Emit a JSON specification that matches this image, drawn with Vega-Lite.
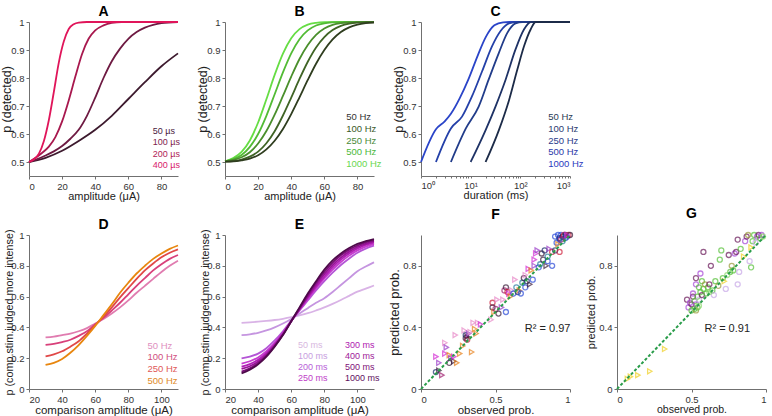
{
"$schema": "https://vega.github.io/schema/vega-lite/v6.json",
"background": "white",
"padding": {"left": 0, "top": 5, "right": 4, "bottom": 0},
"bounds": "flush",
"columns": 4,
"spacing": {"row": 59, "column": 47},
"config": {
  "font": "Liberation Sans",
  "view": {"stroke": null},
  "axis": {"grid": false, "domainColor": "#707070", "tickColor": "#707070", "labelColor": "#333333", "titleColor": "#222222", "labelFontSize": 9.5, "titleFontSize": 11, "titleFontWeight": "normal", "tickSize": 3, "labelPadding": 2, "labelOverlap": false},
  "title": {"fontSize": 14, "fontWeight": "bold", "color": "#000000", "frame": "group"},
  "legend": {"orient": "none", "title": null, "symbolSize": 0, "symbolOpacity": 0, "symbolStrokeWidth": 0, "labelOffset": 0, "padding": 0, "rowPadding": 1, "labelFontSize": 9.5, "labelFont": "Liberation Sans"}
},
"resolve": {"scale": {"color": "independent", "shape": "independent"}, "legend": {"color": "independent", "shape": "independent"}},
"datasets": {
"a": [
{"s":"50 µs","x":0,"p":0.5},{"s":"50 µs","x":10,"p":0.515},{"s":"50 µs","x":20,"p":0.54},{"s":"50 µs","x":30,"p":0.575},{"s":"50 µs","x":40,"p":0.615},{"s":"50 µs","x":50,"p":0.665},{"s":"50 µs","x":60,"p":0.725},{"s":"50 µs","x":70,"p":0.785},{"s":"50 µs","x":80,"p":0.842},{"s":"50 µs","x":90,"p":0.888},
{"s":"100 µs","x":0,"p":0.5},{"s":"100 µs","x":5,"p":0.51},{"s":"100 µs","x":10,"p":0.523},{"s":"100 µs","x":15,"p":0.538},{"s":"100 µs","x":20,"p":0.557},{"s":"100 µs","x":25,"p":0.583},{"s":"100 µs","x":30,"p":0.615},{"s":"100 µs","x":35,"p":0.665},{"s":"100 µs","x":40,"p":0.73},{"s":"100 µs","x":45,"p":0.8},{"s":"100 µs","x":50,"p":0.86},{"s":"100 µs","x":55,"p":0.905},{"s":"100 µs","x":60,"p":0.94},{"s":"100 µs","x":65,"p":0.964},{"s":"100 µs","x":70,"p":0.98},{"s":"100 µs","x":75,"p":0.99},{"s":"100 µs","x":80,"p":0.996},{"s":"100 µs","x":90,"p":1},
{"s":"200 µs","x":0,"p":0.5},{"s":"200 µs","x":4,"p":0.515},{"s":"200 µs","x":8,"p":0.533},{"s":"200 µs","x":12,"p":0.555},{"s":"200 µs","x":16,"p":0.59},{"s":"200 µs","x":20,"p":0.645},{"s":"200 µs","x":24,"p":0.72},{"s":"200 µs","x":28,"p":0.805},{"s":"200 µs","x":32,"p":0.885},{"s":"200 µs","x":36,"p":0.94},{"s":"200 µs","x":40,"p":0.97},{"s":"200 µs","x":45,"p":0.988},{"s":"200 µs","x":50,"p":0.997},{"s":"200 µs","x":56,"p":1},{"s":"200 µs","x":90,"p":1},
{"s":"400 µs","x":0,"p":0.5},{"s":"400 µs","x":3,"p":0.51},{"s":"400 µs","x":6,"p":0.53},{"s":"400 µs","x":9,"p":0.575},{"s":"400 µs","x":12,"p":0.65},{"s":"400 µs","x":15,"p":0.75},{"s":"400 µs","x":18,"p":0.855},{"s":"400 µs","x":21,"p":0.93},{"s":"400 µs","x":24,"p":0.975},{"s":"400 µs","x":27,"p":0.992},{"s":"400 µs","x":30,"p":0.998},{"s":"400 µs","x":35,"p":1},{"s":"400 µs","x":90,"p":1}
],
"b": [
{"s":"1000 Hz","x":0,"p":0.502},{"s":"1000 Hz","x":5,"p":0.514},{"s":"1000 Hz","x":10,"p":0.536},{"s":"1000 Hz","x":15,"p":0.577},{"s":"1000 Hz","x":20,"p":0.641},{"s":"1000 Hz","x":25,"p":0.724},{"s":"1000 Hz","x":30,"p":0.811},{"s":"1000 Hz","x":35,"p":0.887},{"s":"1000 Hz","x":40,"p":0.942},{"s":"1000 Hz","x":45,"p":0.9745},{"s":"1000 Hz","x":50,"p":0.9906},{"s":"1000 Hz","x":55,"p":0.997},{"s":"1000 Hz","x":60,"p":0.9992},{"s":"1000 Hz","x":70,"p":1},{"s":"1000 Hz","x":90,"p":1},
{"s":"500 Hz","x":0,"p":0.502},{"s":"500 Hz","x":5,"p":0.51},{"s":"500 Hz","x":10,"p":0.525},{"s":"500 Hz","x":15,"p":0.554},{"s":"500 Hz","x":20,"p":0.6},{"s":"500 Hz","x":25,"p":0.665},{"s":"500 Hz","x":30,"p":0.742},{"s":"500 Hz","x":35,"p":0.82},{"s":"500 Hz","x":40,"p":0.888},{"s":"500 Hz","x":45,"p":0.9385},{"s":"500 Hz","x":50,"p":0.97},{"s":"500 Hz","x":55,"p":0.9875},{"s":"500 Hz","x":60,"p":0.9955},{"s":"500 Hz","x":65,"p":0.9986},{"s":"500 Hz","x":70,"p":0.9996},{"s":"500 Hz","x":80,"p":1},{"s":"500 Hz","x":90,"p":1},
{"s":"250 Hz","x":0,"p":0.502},{"s":"250 Hz","x":5,"p":0.5075},{"s":"250 Hz","x":10,"p":0.517},{"s":"250 Hz","x":15,"p":0.535},{"s":"250 Hz","x":20,"p":0.566},{"s":"250 Hz","x":25,"p":0.6105},{"s":"250 Hz","x":30,"p":0.669},{"s":"250 Hz","x":35,"p":0.736},{"s":"250 Hz","x":40,"p":0.805},{"s":"250 Hz","x":45,"p":0.868},{"s":"250 Hz","x":50,"p":0.918},{"s":"250 Hz","x":55,"p":0.954},{"s":"250 Hz","x":60,"p":0.9767},{"s":"250 Hz","x":65,"p":0.9894},{"s":"250 Hz","x":70,"p":0.9957},{"s":"250 Hz","x":75,"p":0.9984},{"s":"250 Hz","x":80,"p":0.9995},{"s":"250 Hz","x":90,"p":1},
{"s":"100 Hz","x":0,"p":0.501},{"s":"100 Hz","x":5,"p":0.5036},{"s":"100 Hz","x":10,"p":0.5086},{"s":"100 Hz","x":15,"p":0.519},{"s":"100 Hz","x":20,"p":0.537},{"s":"100 Hz","x":25,"p":0.567},{"s":"100 Hz","x":30,"p":0.61},{"s":"100 Hz","x":35,"p":0.666},{"s":"100 Hz","x":40,"p":0.73},{"s":"100 Hz","x":45,"p":0.7965},{"s":"100 Hz","x":50,"p":0.858},{"s":"100 Hz","x":55,"p":0.909},{"s":"100 Hz","x":60,"p":0.946},{"s":"100 Hz","x":65,"p":0.971},{"s":"100 Hz","x":70,"p":0.986},{"s":"100 Hz","x":75,"p":0.9939},{"s":"100 Hz","x":80,"p":0.9976},{"s":"100 Hz","x":85,"p":0.9991},{"s":"100 Hz","x":90,"p":0.9997},
{"s":"50 Hz","x":0,"p":0.501},{"s":"50 Hz","x":5,"p":0.502},{"s":"50 Hz","x":10,"p":0.506},{"s":"50 Hz","x":15,"p":0.512},{"s":"50 Hz","x":20,"p":0.524},{"s":"50 Hz","x":25,"p":0.545},{"s":"50 Hz","x":30,"p":0.576},{"s":"50 Hz","x":35,"p":0.618},{"s":"50 Hz","x":40,"p":0.671},{"s":"50 Hz","x":45,"p":0.731},{"s":"50 Hz","x":50,"p":0.793},{"s":"50 Hz","x":55,"p":0.851},{"s":"50 Hz","x":60,"p":0.9},{"s":"50 Hz","x":65,"p":0.938},{"s":"50 Hz","x":70,"p":0.9646},{"s":"50 Hz","x":75,"p":0.981},{"s":"50 Hz","x":80,"p":0.991},{"s":"50 Hz","x":85,"p":0.996},{"s":"50 Hz","x":90,"p":0.998}
],
"c": [
{"s":"1000 Hz","d":1,"p":0.5},{"s":"1000 Hz","d":2,"p":0.617},{"s":"1000 Hz","d":3,"p":0.645},{"s":"1000 Hz","d":4,"p":0.672},{"s":"1000 Hz","d":6,"p":0.727},{"s":"1000 Hz","d":9,"p":0.795},{"s":"1000 Hz","d":14,"p":0.882},{"s":"1000 Hz","d":20,"p":0.945},{"s":"1000 Hz","d":30,"p":0.988},{"s":"1000 Hz","d":45,"p":0.999},{"s":"1000 Hz","d":60,"p":1},{"s":"1000 Hz","d":1000,"p":1},
{"s":"500 Hz","d":2,"p":0.5},{"s":"500 Hz","d":4,"p":0.62},{"s":"500 Hz","d":6.7,"p":0.662},{"s":"500 Hz","d":10.6,"p":0.734},{"s":"500 Hz","d":17,"p":0.824},{"s":"500 Hz","d":27,"p":0.914},{"s":"500 Hz","d":40,"p":0.968},{"s":"500 Hz","d":59,"p":0.995},{"s":"500 Hz","d":87,"p":1},{"s":"500 Hz","d":1000,"p":1},
{"s":"250 Hz","d":4,"p":0.5},{"s":"250 Hz","d":8,"p":0.62},{"s":"250 Hz","d":14.5,"p":0.698},{"s":"250 Hz","d":23,"p":0.794},{"s":"250 Hz","d":37,"p":0.89},{"s":"250 Hz","d":55,"p":0.962},{"s":"250 Hz","d":80,"p":0.995},{"s":"250 Hz","d":110,"p":1},{"s":"250 Hz","d":1000,"p":1},
{"s":"100 Hz","d":10,"p":0.5},{"s":"100 Hz","d":20,"p":0.614},{"s":"100 Hz","d":31.6,"p":0.698},{"s":"100 Hz","d":50.5,"p":0.794},{"s":"100 Hz","d":80,"p":0.902},{"s":"100 Hz","d":119,"p":0.974},{"s":"100 Hz","d":162,"p":1},{"s":"100 Hz","d":1000,"p":1},
{"s":"50 Hz","d":20,"p":0.5},{"s":"50 Hz","d":37,"p":0.614},{"s":"50 Hz","d":59,"p":0.72},{"s":"50 Hz","d":87,"p":0.83},{"s":"50 Hz","d":119,"p":0.914},{"s":"50 Hz","d":162,"p":0.974},{"s":"50 Hz","d":204,"p":1},{"s":"50 Hz","d":1000,"p":1}
],
"d": [
{"s":"50 Hz","x":30,"p":0.335},{"s":"50 Hz","x":35,"p":0.34},{"s":"50 Hz","x":40,"p":0.35},{"s":"50 Hz","x":45,"p":0.36},{"s":"50 Hz","x":50,"p":0.375},{"s":"50 Hz","x":55,"p":0.395},{"s":"50 Hz","x":60,"p":0.425},{"s":"50 Hz","x":65,"p":0.455},{"s":"50 Hz","x":70,"p":0.49},{"s":"50 Hz","x":75,"p":0.53},{"s":"50 Hz","x":80,"p":0.575},{"s":"50 Hz","x":85,"p":0.625},{"s":"50 Hz","x":90,"p":0.67},{"s":"50 Hz","x":95,"p":0.715},{"s":"50 Hz","x":100,"p":0.76},{"s":"50 Hz","x":105,"p":0.8},{"s":"50 Hz","x":110,"p":0.833},
{"s":"100 Hz","x":30,"p":0.286},{"s":"100 Hz","x":35,"p":0.293},{"s":"100 Hz","x":40,"p":0.305},{"s":"100 Hz","x":45,"p":0.32},{"s":"100 Hz","x":50,"p":0.345},{"s":"100 Hz","x":55,"p":0.375},{"s":"100 Hz","x":60,"p":0.42},{"s":"100 Hz","x":65,"p":0.462},{"s":"100 Hz","x":70,"p":0.51},{"s":"100 Hz","x":75,"p":0.56},{"s":"100 Hz","x":80,"p":0.615},{"s":"100 Hz","x":85,"p":0.67},{"s":"100 Hz","x":90,"p":0.72},{"s":"100 Hz","x":95,"p":0.77},{"s":"100 Hz","x":100,"p":0.81},{"s":"100 Hz","x":105,"p":0.845},{"s":"100 Hz","x":110,"p":0.87},
{"s":"250 Hz","x":30,"p":0.212},{"s":"250 Hz","x":35,"p":0.225},{"s":"250 Hz","x":40,"p":0.245},{"s":"250 Hz","x":45,"p":0.275},{"s":"250 Hz","x":50,"p":0.31},{"s":"250 Hz","x":55,"p":0.36},{"s":"250 Hz","x":60,"p":0.415},{"s":"250 Hz","x":65,"p":0.47},{"s":"250 Hz","x":70,"p":0.53},{"s":"250 Hz","x":75,"p":0.595},{"s":"250 Hz","x":80,"p":0.655},{"s":"250 Hz","x":85,"p":0.715},{"s":"250 Hz","x":90,"p":0.77},{"s":"250 Hz","x":95,"p":0.815},{"s":"250 Hz","x":100,"p":0.855},{"s":"250 Hz","x":105,"p":0.885},{"s":"250 Hz","x":110,"p":0.907},
{"s":"500 Hz","x":30,"p":0.156},{"s":"500 Hz","x":35,"p":0.17},{"s":"500 Hz","x":40,"p":0.195},{"s":"500 Hz","x":45,"p":0.235},{"s":"500 Hz","x":50,"p":0.285},{"s":"500 Hz","x":55,"p":0.345},{"s":"500 Hz","x":60,"p":0.41},{"s":"500 Hz","x":65,"p":0.48},{"s":"500 Hz","x":70,"p":0.55},{"s":"500 Hz","x":75,"p":0.625},{"s":"500 Hz","x":80,"p":0.69},{"s":"500 Hz","x":85,"p":0.75},{"s":"500 Hz","x":90,"p":0.8},{"s":"500 Hz","x":95,"p":0.845},{"s":"500 Hz","x":100,"p":0.88},{"s":"500 Hz","x":105,"p":0.91},{"s":"500 Hz","x":110,"p":0.932}
],
"e": [
{"s":"50 ms","x":30,"p":0.43},{"s":"50 ms","x":35,"p":0.433},{"s":"50 ms","x":40,"p":0.437},{"s":"50 ms","x":45,"p":0.442},{"s":"50 ms","x":50,"p":0.448},{"s":"50 ms","x":55,"p":0.456},{"s":"50 ms","x":60,"p":0.466},{"s":"50 ms","x":65,"p":0.478},{"s":"50 ms","x":70,"p":0.492},{"s":"50 ms","x":75,"p":0.51},{"s":"50 ms","x":80,"p":0.53},{"s":"50 ms","x":85,"p":0.553},{"s":"50 ms","x":90,"p":0.578},{"s":"50 ms","x":95,"p":0.605},{"s":"50 ms","x":100,"p":0.632},{"s":"50 ms","x":105,"p":0.652},{"s":"50 ms","x":110,"p":0.672},
{"s":"100 ms","x":30,"p":0.35},{"s":"100 ms","x":35,"p":0.355},{"s":"100 ms","x":40,"p":0.365},{"s":"100 ms","x":45,"p":0.38},{"s":"100 ms","x":50,"p":0.4},{"s":"100 ms","x":55,"p":0.425},{"s":"100 ms","x":60,"p":0.455},{"s":"100 ms","x":65,"p":0.49},{"s":"100 ms","x":70,"p":0.525},{"s":"100 ms","x":75,"p":0.56},{"s":"100 ms","x":80,"p":0.59},{"s":"100 ms","x":85,"p":0.63},{"s":"100 ms","x":90,"p":0.675},{"s":"100 ms","x":95,"p":0.72},{"s":"100 ms","x":100,"p":0.765},{"s":"100 ms","x":105,"p":0.795},{"s":"100 ms","x":110,"p":0.823},
{"s":"200 ms","x":30,"p":0.199},{"s":"200 ms","x":35,"p":0.21},{"s":"200 ms","x":40,"p":0.23},{"s":"200 ms","x":45,"p":0.265},{"s":"200 ms","x":50,"p":0.315},{"s":"200 ms","x":55,"p":0.375},{"s":"200 ms","x":60,"p":0.445},{"s":"200 ms","x":65,"p":0.51},{"s":"200 ms","x":70,"p":0.575},{"s":"200 ms","x":75,"p":0.64},{"s":"200 ms","x":80,"p":0.7},{"s":"200 ms","x":85,"p":0.755},{"s":"200 ms","x":90,"p":0.805},{"s":"200 ms","x":95,"p":0.848},{"s":"200 ms","x":100,"p":0.885},{"s":"200 ms","x":105,"p":0.912},{"s":"200 ms","x":110,"p":0.931},
{"s":"250 ms","x":30,"p":0.165},{"s":"250 ms","x":35,"p":0.18},{"s":"250 ms","x":40,"p":0.205},{"s":"250 ms","x":45,"p":0.245},{"s":"250 ms","x":50,"p":0.3},{"s":"250 ms","x":55,"p":0.365},{"s":"250 ms","x":60,"p":0.44},{"s":"250 ms","x":65,"p":0.513},{"s":"250 ms","x":70,"p":0.585},{"s":"250 ms","x":75,"p":0.655},{"s":"250 ms","x":80,"p":0.718},{"s":"250 ms","x":85,"p":0.775},{"s":"250 ms","x":90,"p":0.825},{"s":"250 ms","x":95,"p":0.866},{"s":"250 ms","x":100,"p":0.9},{"s":"250 ms","x":105,"p":0.925},{"s":"250 ms","x":110,"p":0.94},
{"s":"300 ms","x":30,"p":0.145},{"s":"300 ms","x":35,"p":0.162},{"s":"300 ms","x":40,"p":0.19},{"s":"300 ms","x":45,"p":0.232},{"s":"300 ms","x":50,"p":0.29},{"s":"300 ms","x":55,"p":0.36},{"s":"300 ms","x":60,"p":0.44},{"s":"300 ms","x":65,"p":0.517},{"s":"300 ms","x":70,"p":0.593},{"s":"300 ms","x":75,"p":0.665},{"s":"300 ms","x":80,"p":0.73},{"s":"300 ms","x":85,"p":0.79},{"s":"300 ms","x":90,"p":0.84},{"s":"300 ms","x":95,"p":0.88},{"s":"300 ms","x":100,"p":0.912},{"s":"300 ms","x":105,"p":0.935},{"s":"300 ms","x":110,"p":0.95},
{"s":"400 ms","x":30,"p":0.13},{"s":"400 ms","x":35,"p":0.148},{"s":"400 ms","x":40,"p":0.178},{"s":"400 ms","x":45,"p":0.222},{"s":"400 ms","x":50,"p":0.283},{"s":"400 ms","x":55,"p":0.355},{"s":"400 ms","x":60,"p":0.44},{"s":"400 ms","x":65,"p":0.52},{"s":"400 ms","x":70,"p":0.6},{"s":"400 ms","x":75,"p":0.677},{"s":"400 ms","x":80,"p":0.745},{"s":"400 ms","x":85,"p":0.805},{"s":"400 ms","x":90,"p":0.853},{"s":"400 ms","x":95,"p":0.892},{"s":"400 ms","x":100,"p":0.922},{"s":"400 ms","x":105,"p":0.943},{"s":"400 ms","x":110,"p":0.958},
{"s":"500 ms","x":30,"p":0.113},{"s":"500 ms","x":35,"p":0.134},{"s":"500 ms","x":40,"p":0.168},{"s":"500 ms","x":45,"p":0.215},{"s":"500 ms","x":50,"p":0.278},{"s":"500 ms","x":55,"p":0.352},{"s":"500 ms","x":60,"p":0.44},{"s":"500 ms","x":65,"p":0.525},{"s":"500 ms","x":70,"p":0.61},{"s":"500 ms","x":75,"p":0.69},{"s":"500 ms","x":80,"p":0.76},{"s":"500 ms","x":85,"p":0.82},{"s":"500 ms","x":90,"p":0.868},{"s":"500 ms","x":95,"p":0.905},{"s":"500 ms","x":100,"p":0.932},{"s":"500 ms","x":105,"p":0.952},{"s":"500 ms","x":110,"p":0.965},
{"s":"1000 ms","x":30,"p":0.102},{"s":"1000 ms","x":35,"p":0.125},{"s":"1000 ms","x":40,"p":0.16},{"s":"1000 ms","x":45,"p":0.21},{"s":"1000 ms","x":50,"p":0.275},{"s":"1000 ms","x":55,"p":0.35},{"s":"1000 ms","x":60,"p":0.44},{"s":"1000 ms","x":65,"p":0.53},{"s":"1000 ms","x":70,"p":0.62},{"s":"1000 ms","x":75,"p":0.7},{"s":"1000 ms","x":80,"p":0.775},{"s":"1000 ms","x":85,"p":0.835},{"s":"1000 ms","x":90,"p":0.88},{"s":"1000 ms","x":95,"p":0.915},{"s":"1000 ms","x":100,"p":0.942},{"s":"1000 ms","x":105,"p":0.96},{"s":"1000 ms","x":110,"p":0.974}
],
"f": [
{"o":0.10,"pr":0.11,"g":"navy","k":"c"},{"o":0.12,"pr":0.17,"g":"purple","k":"t"},{"o":0.10,"pr":0.21,"g":"magenta","k":"t"},{"o":0.14,"pr":0.09,"g":"plum","k":"t"},{"o":0.12,"pr":0.12,"g":"dark","k":"t"},{"o":0.16,"pr":0.30,"g":"pink","k":"t"},{"o":0.17,"pr":0.27,"g":"purple","k":"t"},{"o":0.16,"pr":0.23,"g":"magenta","k":"t"},{"o":0.19,"pr":0.22,"g":"orange","k":"t"},{"o":0.20,"pr":0.20,"g":"purple","k":"t"},{"o":0.19,"pr":0.17,"g":"dark","k":"c"},{"o":0.22,"pr":0.18,"g":"dark","k":"t"},{"o":0.22,"pr":0.21,"g":"magenta","k":"t"},{"o":0.23,"pr":0.35,"g":"pink","k":"t"},{"o":0.24,"pr":0.17,"g":"orange","k":"t"},{"o":0.26,"pr":0.23,"g":"orange","k":"t"},{"o":0.28,"pr":0.28,"g":"orange","k":"t"},{"o":0.29,"pr":0.38,"g":"pink","k":"t"},{"o":0.30,"pr":0.33,"g":"dark","k":"c"},{"o":0.30,"pr":0.35,"g":"navy","k":"c"},{"o":0.31,"pr":0.32,"g":"red","k":"c"},{"o":0.31,"pr":0.34,"g":"dark","k":"t"},{"o":0.32,"pr":0.36,"g":"purple","k":"t"},{"o":0.33,"pr":0.37,"g":"pink","k":"t"},{"o":0.34,"pr":0.24,"g":"orange","k":"t"},{"o":0.35,"pr":0.43,"g":"pink","k":"t"},{"o":0.37,"pr":0.36,"g":"orange","k":"t"},{"o":0.38,"pr":0.43,"g":"pink","k":"t"},{"o":0.36,"pr":0.39,"g":"orange","k":"t"},{"o":0.40,"pr":0.42,"g":"magenta","k":"t"},
{"o":0.47,"pr":0.45,"g":"pink","k":"t"},{"o":0.48,"pr":0.56,"g":"red","k":"c"},{"o":0.48,"pr":0.53,"g":"dark","k":"c"},{"o":0.49,"pr":0.50,"g":"orange","k":"t"},{"o":0.50,"pr":0.52,"g":"plum","k":"c"},{"o":0.51,"pr":0.58,"g":"pink","k":"t"},{"o":0.52,"pr":0.49,"g":"dark","k":"c"},{"o":0.54,"pr":0.53,"g":"purple","k":"t"},{"o":0.55,"pr":0.58,"g":"pink","k":"t"},{"o":0.56,"pr":0.64,"g":"plum","k":"c"},{"o":0.57,"pr":0.50,"g":"blue","k":"c"},{"o":0.57,"pr":0.66,"g":"dark","k":"c"},{"o":0.58,"pr":0.63,"g":"red","k":"c"},{"o":0.59,"pr":0.62,"g":"magenta","k":"t"},{"o":0.60,"pr":0.60,"g":"orange","k":"t"},{"o":0.61,"pr":0.64,"g":"pink","k":"t"},{"o":0.62,"pr":0.62,"g":"blue","k":"c"},{"o":0.63,"pr":0.71,"g":"pink","k":"t"},{"o":0.64,"pr":0.66,"g":"teal","k":"c"},{"o":0.65,"pr":0.63,"g":"navy","k":"c"},{"o":0.66,"pr":0.64,"g":"orange","k":"t"},{"o":0.67,"pr":0.62,"g":"blue","k":"c"},{"o":0.68,"pr":0.69,"g":"teal","k":"c"},{"o":0.69,"pr":0.72,"g":"dark","k":"c"},{"o":0.70,"pr":0.74,"g":"pink","k":"t"},{"o":0.70,"pr":0.66,"g":"blue","k":"c"},{"o":0.71,"pr":0.70,"g":"navy","k":"c"},{"o":0.72,"pr":0.78,"g":"magenta","k":"t"},{"o":0.73,"pr":0.68,"g":"dark","k":"t"},{"o":0.74,"pr":0.77,"g":"orange","k":"t"},{"o":0.75,"pr":0.71,"g":"blue","k":"c"},{"o":0.76,"pr":0.80,"g":"purple","k":"t"},{"o":0.76,"pr":0.84,"g":"magenta","k":"t"},{"o":0.77,"pr":0.88,"g":"magenta","k":"t"},{"o":0.78,"pr":0.90,"g":"purple","k":"t"},{"o":0.79,"pr":0.79,"g":"blue","k":"c"},{"o":0.80,"pr":0.81,"g":"teal","k":"c"},{"o":0.81,"pr":0.88,"g":"dark","k":"c"},{"o":0.82,"pr":0.84,"g":"dark","k":"c"},{"o":0.83,"pr":0.90,"g":"navy","k":"c"},{"o":0.84,"pr":0.80,"g":"dark","k":"t"},{"o":0.85,"pr":0.83,"g":"blue","k":"c"},{"o":0.85,"pr":0.86,"g":"teal","k":"c"},{"o":0.86,"pr":0.91,"g":"purple","k":"t"},{"o":0.88,"pr":0.89,"g":"red","k":"c"},{"o":0.88,"pr":0.80,"g":"blue","k":"c"},{"o":0.90,"pr":0.90,"g":"navy","k":"c"},{"o":0.91,"pr":0.95,"g":"blue","k":"c"},{"o":0.93,"pr":0.89,"g":"red","k":"c"},{"o":0.93,"pr":0.97,"g":"blue","k":"c"},
{"o":0.90,"pr":0.99,"g":"blue","k":"c"},{"o":0.92,"pr":1.0,"g":"blue","k":"c"},{"o":0.93,"pr":0.98,"g":"navy","k":"c"},{"o":0.94,"pr":1.0,"g":"blue","k":"c"},{"o":0.95,"pr":0.99,"g":"dark","k":"c"},{"o":0.96,"pr":1.0,"g":"red","k":"c"},{"o":0.97,"pr":0.98,"g":"blue","k":"c"},{"o":0.97,"pr":1.0,"g":"navy","k":"c"},{"o":0.98,"pr":0.99,"g":"blue","k":"c"},{"o":0.99,"pr":1.0,"g":"red","k":"c"},{"o":1.0,"pr":1.0,"g":"dark","k":"c"},{"o":0.95,"pr":0.96,"g":"teal","k":"c"},{"o":0.98,"pr":1.0,"g":"magenta","k":"t"},{"o":0.94,"pr":0.97,"g":"plum","k":"c"},{"o":0.92,"pr":0.94,"g":"orange","k":"t"}
],
"g": [
{"o":0.07,"pr":0.065,"g":"yellow","k":"t"},{"o":0.09,"pr":0.08,"g":"yellow","k":"t"},{"o":0.14,"pr":0.09,"g":"yellow","k":"t"},{"o":0.22,"pr":0.115,"g":"yellow","k":"t"},{"o":0.32,"pr":0.26,"g":"yellow","k":"t"},
{"o":0.47,"pr":0.58,"g":"dpurple","k":"c"},{"o":0.48,"pr":0.53,"g":"purple","k":"c"},{"o":0.49,"pr":0.56,"g":"purple","k":"c"},{"o":0.50,"pr":0.55,"g":"dpurple","k":"c"},{"o":0.50,"pr":0.51,"g":"green","k":"c"},{"o":0.51,"pr":0.60,"g":"dpurple","k":"c"},{"o":0.51,"pr":0.62,"g":"purple","k":"c"},{"o":0.52,"pr":0.52,"g":"green","k":"c"},{"o":0.52,"pr":0.57,"g":"green","k":"c"},{"o":0.53,"pr":0.55,"g":"purple","k":"c"},{"o":0.53,"pr":0.72,"g":"dpurple","k":"c"},{"o":0.53,"pr":0.68,"g":"purple","k":"c"},{"o":0.53,"pr":0.51,"g":"olive","k":"c"},{"o":0.54,"pr":0.53,"g":"green","k":"c"},{"o":0.54,"pr":0.60,"g":"green","k":"c"},{"o":0.55,"pr":0.66,"g":"green","k":"c"},{"o":0.55,"pr":0.58,"g":"lpurple","k":"c"},{"o":0.56,"pr":0.63,"g":"green","k":"c"},{"o":0.56,"pr":0.75,"g":"purple","k":"c"},{"o":0.57,"pr":0.61,"g":"dpurple","k":"c"},{"o":0.57,"pr":0.70,"g":"green","k":"c"},{"o":0.58,"pr":0.89,"g":"dpurple","k":"c"},{"o":0.58,"pr":0.65,"g":"green","k":"c"},{"o":0.59,"pr":0.68,"g":"olive","k":"c"},{"o":0.60,"pr":0.62,"g":"green","k":"c"},{"o":0.61,"pr":0.66,"g":"green","k":"c"},{"o":0.62,"pr":0.68,"g":"dpurple","k":"c"},{"o":0.63,"pr":0.80,"g":"dpurple","k":"c"},{"o":0.64,"pr":0.64,"g":"green","k":"c"},{"o":0.65,"pr":0.61,"g":"lpurple","k":"c"},{"o":0.66,"pr":0.70,"g":"green","k":"c"},{"o":0.68,"pr":0.67,"g":"olive","k":"c"},{"o":0.69,"pr":0.84,"g":"green","k":"c"},{"o":0.70,"pr":0.90,"g":"green","k":"c"},{"o":0.71,"pr":0.72,"g":"green","k":"c"},{"o":0.72,"pr":0.70,"g":"yellow","k":"t"},{"o":0.73,"pr":0.65,"g":"lpurple","k":"c"},{"o":0.75,"pr":0.87,"g":"dpurple","k":"c"},{"o":0.76,"pr":0.76,"g":"green","k":"c"},{"o":0.77,"pr":0.80,"g":"olive","k":"c"},{"o":0.78,"pr":0.77,"g":"green","k":"c"},{"o":0.79,"pr":0.88,"g":"purple","k":"c"},{"o":0.80,"pr":0.89,"g":"dpurple","k":"c"},{"o":0.81,"pr":0.68,"g":"lpurple","k":"c"},{"o":0.81,"pr":0.97,"g":"dpurple","k":"c"},{"o":0.82,"pr":0.76,"g":"lpurple","k":"c"},{"o":0.83,"pr":0.91,"g":"green","k":"c"},{"o":0.85,"pr":0.86,"g":"yellow","k":"t"},{"o":0.86,"pr":0.96,"g":"purple","k":"c"},{"o":0.87,"pr":0.99,"g":"dpurple","k":"c"},{"o":0.88,"pr":1.0,"g":"olive","k":"c"},{"o":0.89,"pr":0.83,"g":"lpurple","k":"c"},{"o":0.90,"pr":0.79,"g":"green","k":"c"},{"o":0.90,"pr":0.92,"g":"yellow","k":"t"},{"o":0.91,"pr":0.96,"g":"green","k":"c"},{"o":0.92,"pr":1.0,"g":"green","k":"c"},{"o":0.93,"pr":0.95,"g":"lpurple","k":"c"},{"o":0.94,"pr":0.99,"g":"purple","k":"c"},{"o":0.95,"pr":1.0,"g":"dpurple","k":"c"},{"o":0.96,"pr":0.98,"g":"green","k":"c"},{"o":0.97,"pr":1.0,"g":"purple","k":"c"},{"o":0.98,"pr":0.99,"g":"lgreen","k":"c"},{"o":0.62,"pr":0.63,"g":"lgreen","k":"c"},{"o":0.74,"pr":0.74,"g":"lgreen","k":"c"},{"o":0.55,"pr":0.54,"g":"lgreen","k":"c"}
],
"blank": [{"z": 0}],
"rf": [{"lbl": "R² = 0.97", "xo": 0.85, "yo": 0.39}],
"rg": [{"lbl": "R² = 0.91", "xo": 0.74, "yo": 0.39}],
"diag": [{"x0": 0, "y0": 0, "x1": 1, "y1": 1}]
},
"concat": [
{
 "width": 149, "height": 154,
 "title": {"text": "A", "offset": -2},
 "data": {"name": "a"},
 "mark": {"type": "line", "strokeWidth": 1.8, "interpolate": "monotone"},
 "encoding": {
  "x": {"field": "x", "type": "quantitative", "scale": {"domain": [0, 90], "nice": false}, "axis": {"title": "amplitude (μA)", "values": [0,20,40,60,80], "titlePadding": 0}},
  "y": {"field": "p", "type": "quantitative", "scale": {"domain": [0.45, 1], "nice": false, "zero": false}, "axis": {"title": "p (detected)", "values": [0.5,0.6,0.7,0.8,0.9,1], "format": "~g", "titleFontSize": 12.5, "titlePadding": -3}},
  "color": {"field": "s", "type": "nominal", "scale": {"domain": ["50 µs","100 µs","200 µs","400 µs"], "range": ["#3d1a2e","#6e1a42","#a8184e","#e0155a"]},
   "legend": {"legendX": 114.7, "legendY": 104, "labelFontSize": 9, "rowPadding": 1.6, "labelColor": {"expr": "['#4a2040','#801c4c','#b01c55','#d8206a'][indexof(['50 µs','100 µs','200 µs','400 µs'], datum.value)]"}}}
 }
},
{
 "width": 149, "height": 154,
 "title": {"text": "B", "offset": -2},
 "data": {"name": "b"},
 "mark": {"type": "line", "strokeWidth": 1.8, "interpolate": "monotone"},
 "encoding": {
  "x": {"field": "x", "type": "quantitative", "scale": {"domain": [0, 90], "nice": false}, "axis": {"title": "amplitude (μA)", "values": [0,20,40,60,80], "titlePadding": 0}},
  "y": {"field": "p", "type": "quantitative", "scale": {"domain": [0.45, 1], "nice": false, "zero": false}, "axis": {"title": "p (detected)", "values": [0.5,0.6,0.7,0.8,0.9,1], "format": "~g", "titleFontSize": 12.5, "titlePadding": -3}},
  "color": {"field": "s", "type": "nominal", "scale": {"domain": ["50 Hz","100 Hz","250 Hz","500 Hz","1000 Hz"], "range": ["#2f3d1f","#3f6425","#4a8f2c","#52bb35","#66dd44"]},
   "legend": {"legendX": 111.7, "legendY": 90, "rowPadding": 0.9, "labelColor": {"expr": "['#333333','#3a5a28','#4a8a38','#4ab83a','#6ad850'][indexof(['50 Hz','100 Hz','250 Hz','500 Hz','1000 Hz'], datum.value)]"}}}
 }
},
{
 "width": 149, "height": 154,
 "title": {"text": "C", "offset": -2},
 "data": {"name": "c"},
 "mark": {"type": "line", "strokeWidth": 1.8, "interpolate": "monotone"},
 "encoding": {
  "x": {"field": "d", "type": "quantitative", "scale": {"type": "log", "domain": [1, 1000], "nice": false}, "axis": {"title": "duration (ms)", "values": [1,2,3,4,5,6,7,8,9,10,20,30,40,50,60,70,80,90,100,200,300,400,500,600,700,800,900,1000], "labelExpr": "datum.value == 1 ? '10⁰' : datum.value == 10 ? '10¹' : datum.value == 100 ? '10²' : datum.value == 1000 ? '10³' : ''", "tickSize": 2, "titlePadding": 0}},
  "y": {"field": "p", "type": "quantitative", "scale": {"domain": [0.45, 1], "nice": false, "zero": false}, "axis": {"title": "p (detected)", "values": [0.5,0.6,0.7,0.8,0.9,1], "format": "~g", "titleFontSize": 12.5, "titlePadding": -3}},
  "color": {"field": "s", "type": "nominal", "scale": {"domain": ["50 Hz","100 Hz","250 Hz","500 Hz","1000 Hz"], "range": ["#1c2b48","#1e3266","#213c8a","#2440a8","#2a44c8"]},
   "legend": {"legendX": 117.7, "legendY": 90, "rowPadding": 0.9, "labelColor": {"expr": "['#2a3a55','#2a3a70','#2a3a8a','#2a38a8','#2a3ac0'][indexof(['50 Hz','100 Hz','250 Hz','500 Hz','1000 Hz'], datum.value)]"}}}
 }
},
{
 "width": 149, "height": 154,
 "data": {"name": "blank"},
 "mark": {"type": "point", "opacity": 0},
 "encoding": {}
},
{
 "width": 149, "height": 154,
 "title": {"text": "D", "offset": -3.2},
 "data": {"name": "d"},
 "mark": {"type": "line", "strokeWidth": 1.8, "interpolate": "monotone"},
 "encoding": {
  "x": {"field": "x", "type": "quantitative", "scale": {"domain": [20, 110], "nice": false, "zero": false}, "axis": {"title": "comparison amplitude (μA)", "values": [20,40,60,80,100], "titleFontSize": 11.5, "titlePadding": 1}},
  "y": {"field": "p", "type": "quantitative", "scale": {"domain": [0, 1], "nice": false}, "axis": {"title": "p (comp.stim.judged more intense)", "values": [0,0.2,0.4,0.6,0.8,1], "format": "~g", "titleFontSize": 10.8, "titlePadding": -3.5}},
  "color": {"field": "s", "type": "nominal", "scale": {"domain": ["50 Hz","100 Hz","250 Hz","500 Hz"], "range": ["#e07cb0","#d8407a","#e04848","#e8860e"]},
   "legend": {"legendX": 109, "legendY": 106, "rowPadding": 0.6, "labelColor": {"expr": "['#e090c0','#d05080','#e05858','#e08a28'][indexof(['50 Hz','100 Hz','250 Hz','500 Hz'], datum.value)]"}}}
 }
},
{
 "width": 149, "height": 154,
 "title": {"text": "E", "offset": -3.2},
 "data": {"name": "e"},
 "mark": {"type": "line", "strokeWidth": 1.8, "interpolate": "monotone"},
 "encoding": {
  "x": {"field": "x", "type": "quantitative", "scale": {"domain": [20, 110], "nice": false, "zero": false}, "axis": {"title": "comparison amplitude (μA)", "values": [20,40,60,80,100], "titleFontSize": 11.5, "titlePadding": 1}},
  "y": {"field": "p", "type": "quantitative", "scale": {"domain": [0, 1], "nice": false}, "axis": {"title": "p (comp.stim.judged more intense)", "values": [0,0.2,0.4,0.6,0.8,1], "format": "~g", "titleFontSize": 10.8, "titlePadding": -3.5}},
  "color": {"field": "s", "type": "nominal", "scale": {"domain": ["50 ms","100 ms","200 ms","250 ms","300 ms","400 ms","500 ms","1000 ms"], "range": ["#d9b3e6","#c595e0","#b455d6","#c63ccf","#b11fb6","#991199","#7a0c78","#4e0a4a"]},
   "legend": {"legendX": 64, "legendY": 105, "columns": 2, "columnPadding": 8, "rowPadding": 1.2, "labelFontSize": 9, "labelColor": {"expr": "['#d8b8e0','#c8a0e0','#b860d8','#c040c8','#b020b0','#a01898','#801078','#601060'][indexof(['50 ms','100 ms','200 ms','250 ms','300 ms','400 ms','500 ms','1000 ms'], datum.value)]"}}}
 }
},
{
 "width": 149, "height": 154,
 "title": {"text": "F", "offset": 8.3},
 "layer": [
  {"data": {"name": "f"},
   "mark": {"type": "point", "filled": false, "size": 25, "strokeWidth": 1.3},
   "encoding": {
    "x": {"field": "o", "type": "quantitative", "scale": {"domain": [0, 1], "nice": false}, "axis": {"title": "observed prob.", "values": [0, 0.5, 1], "format": "~g", "titleFontSize": 11.5, "titlePadding": 1, "labelOverlap": false}},
    "y": {"field": "pr", "type": "quantitative", "scale": {"domain": [0, 1], "nice": false}, "axis": {"title": "predicted prob.", "values": [0,0.2,0.4,0.6,0.8,1], "format": "~g", "titleFontSize": 13, "titlePadding": 1, "labelOverlap": false, "labelFlush": false}},
    "color": {"field": "g", "type": "nominal", "legend": null, "scale": {"domain": ["blue","navy","teal","dark","red","orange","magenta","purple","pink","plum"], "range": ["#2a4ad8","#1c2c6c","#2a7aa0","#3a1a3a","#d0203c","#e8801a","#d42ad4","#9a3ac8","#e888c8","#a02070"]}},
    "shape": {"field": "k", "type": "nominal", "legend": null, "scale": {"domain": ["c","t"], "range": ["circle","triangle-right"]}}
   }},
  {"data": {"name": "diag"},
   "mark": {"type": "rule", "color": "#2a9d4a", "strokeWidth": 2, "strokeDash": [3, 2]},
   "encoding": {"x": {"field": "x0", "type": "quantitative"}, "y": {"field": "y0", "type": "quantitative"}, "x2": {"field": "x1"}, "y2": {"field": "y1"}}},
  {"data": {"name": "rf"},
   "mark": {"type": "text", "fontSize": 11, "color": "#222222", "align": "center"},
   "encoding": {"x": {"field": "xo", "type": "quantitative"}, "y": {"field": "yo", "type": "quantitative"}, "text": {"field": "lbl", "type": "nominal"}}}
 ]
},
{
 "width": 149, "height": 154,
 "title": {"text": "G", "offset": 8.5},
 "layer": [
  {"data": {"name": "g"},
   "mark": {"type": "point", "filled": false, "size": 25, "strokeWidth": 1.3},
   "encoding": {
    "x": {"field": "o", "type": "quantitative", "scale": {"domain": [0, 1], "nice": false}, "axis": {"title": "observed prob.", "values": [0, 0.5, 1], "format": "~g", "titleFontSize": 10.5, "titlePadding": 1, "labelOverlap": false}},
    "y": {"field": "pr", "type": "quantitative", "scale": {"domain": [0, 1], "nice": false}, "axis": {"title": "predicted prob.", "values": [0,0.2,0.4,0.6,0.8,1], "format": "~g", "titleFontSize": 11, "titlePadding": 2, "labelOverlap": false, "labelFlush": false}},
    "color": {"field": "g", "type": "nominal", "legend": null, "scale": {"domain": ["green","lgreen","purple","lpurple","dpurple","yellow","olive"], "range": ["#58c23a","#8ad86a","#a848d8","#c8a8e8","#6a1a5a","#f0d020","#9a9a3a"]}},
    "shape": {"field": "k", "type": "nominal", "legend": null, "scale": {"domain": ["c","t"], "range": ["circle","triangle-right"]}}
   }},
  {"data": {"name": "diag"},
   "mark": {"type": "rule", "color": "#2a9d4a", "strokeWidth": 2, "strokeDash": [3, 2]},
   "encoding": {"x": {"field": "x0", "type": "quantitative"}, "y": {"field": "y0", "type": "quantitative"}, "x2": {"field": "x1"}, "y2": {"field": "y1"}}},
  {"data": {"name": "rg"},
   "mark": {"type": "text", "fontSize": 11, "color": "#222222", "align": "center"},
   "encoding": {"x": {"field": "xo", "type": "quantitative"}, "y": {"field": "yo", "type": "quantitative"}, "text": {"field": "lbl", "type": "nominal"}}}
 ]
}
]
}
